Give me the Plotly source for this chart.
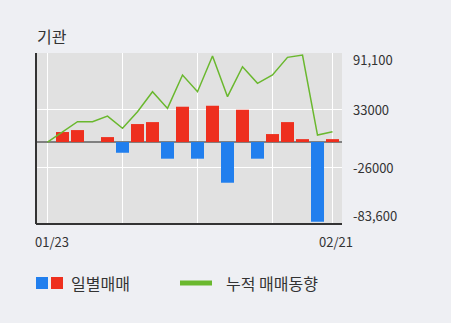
import plotly.graph_objects as go

dates = ["01/23", "", "", "", "", "", "", "", "", "", "", "", "", "", "", "", "", "", "", "02/21"]
daily = [0, 10300, 12300, 0, 5100, -11000, 18500, 20500, -17100, 36300,
         -17100, 37300, -41800, 33200, -17100, 8200, 20500, 3000, -81900, 3000]
cumulative = [0, 10300, 20900, 20900, 26700, 14100, 31200, 51700, 34600, 68900,
              51700, 88400, 46600, 77400, 60300, 68900, 87000, 89400, 7200, 10600]
y_ticks = [91100, 33000, -26000, -83600]
y_tick_text = ["91,100", "33000", "-26000", "-83,600"]
title = "기관"
legend_daily = "일별매매"
legend_cum = "누적 매매동향"

RED = "#ee2f1e"
BLUE = "#217fee"
GREEN = "#6ab82e"
FONT = "Noto Sans CJK KR"
TXT = "#333333"

x = list(range(len(daily)))
colors = [RED if v >= 0 else BLUE for v in daily]

fig = go.Figure()
fig.add_trace(go.Bar(x=x, y=daily, marker=dict(color=colors, line=dict(width=0)), showlegend=False))
fig.add_trace(go.Scatter(x=x, y=cumulative, mode="lines", line=dict(color=GREEN, width=1.5), showlegend=False))

fig.update_layout(
    width=451, height=323,
    margin=dict(l=36, r=109, t=53, b=99),
    paper_bgcolor="#eeeff3",
    plot_bgcolor="#e1e1e1",
    bargap=0.133,
    font=dict(family=FONT, size=13, color=TXT),
    xaxis=dict(
        range=[-0.767, 19.633],
        tickmode="array",
        tickvals=[0, 5, 10, 15, 19],
        showticklabels=False,
        showgrid=True, gridcolor="#ffffff", gridwidth=1,
        zeroline=False, showline=False, ticks="",
        fixedrange=True,
    ),
    yaxis=dict(
        range=[-84200, 91500],
        tickmode="array",
        tickvals=y_ticks,
        showticklabels=False,
        showgrid=True, gridcolor="#ffffff", gridwidth=1,
        zeroline=True, zerolinecolor="#808080", zerolinewidth=2,
        showline=False, ticks="",
        fixedrange=True,
    ),
)


def px(xp):
    return (xp - 36) / 306


def py(yp):
    return (323 - 99 - yp) / 171


# axis lines (left and bottom)
fig.add_shape(type="line", xref="paper", yref="paper", x0=0, x1=0, y0=0, y1=1,
              line=dict(color=TXT, width=2))
fig.add_shape(type="line", xref="paper", yref="paper", x0=0, x1=1, y0=0, y1=0,
              line=dict(color=TXT, width=2))

# x labels (first and last date)
for i, s in [(0, 4), (19, 3)]:
    fig.add_annotation(x=i, xref="x", y=py(242), yref="paper", text=dates[i], showarrow=False,
                       xanchor="center", yanchor="middle", xshift=s,
                       font=dict(size=13, color=TXT, family=FONT))

# right-side value labels
shifts = [-6, 0, 0, 8]
for v, t, s in zip(y_ticks, y_tick_text, shifts):
    fig.add_annotation(x=1, xref="paper", y=v, yref="y", text=t, showarrow=False,
                       xanchor="left", xshift=9, yshift=s,
                       font=dict(size=13, color=TXT, family=FONT))

# title
fig.add_annotation(xref="paper", yref="paper", x=px(35), y=py(36), text=title, showarrow=False,
                   xanchor="left", yanchor="middle", font=dict(size=16, color=TXT, family=FONT))

# legend (drawn manually)
fig.add_shape(type="rect", xref="paper", yref="paper", x0=px(36), x1=px(48), y0=py(289), y1=py(277),
              fillcolor=BLUE, line=dict(width=0))
fig.add_shape(type="rect", xref="paper", yref="paper", x0=px(51), x1=px(63), y0=py(289), y1=py(277),
              fillcolor=RED, line=dict(width=0))
fig.add_annotation(xref="paper", yref="paper", x=px(69), y=py(283), text=legend_daily, showarrow=False,
                   xanchor="left", yanchor="middle", font=dict(size=16, color=TXT, family=FONT))
fig.add_shape(type="line", xref="paper", yref="paper", x0=px(180), x1=px(212), y0=py(283), y1=py(283),
              line=dict(color=GREEN, width=5))
fig.add_annotation(xref="paper", yref="paper", x=px(224), y=py(283), text=legend_cum, showarrow=False,
                   xanchor="left", yanchor="middle", font=dict(size=16, color=TXT, family=FONT))

fig.write_html("out.html")
